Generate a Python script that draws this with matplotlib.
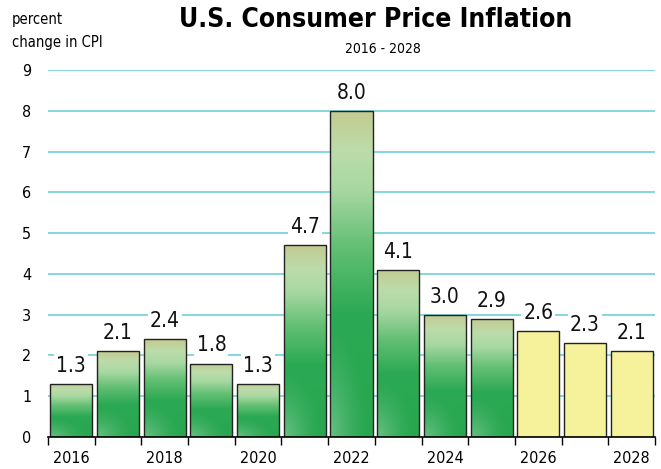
import numpy as np
import matplotlib
matplotlib.use("Agg")
import matplotlib.pyplot as plt
from matplotlib.patches import Rectangle
from matplotlib.colors import LinearSegmentedColormap

years = [2016, 2017, 2018, 2019, 2020, 2021, 2022, 2023, 2024, 2025, 2026, 2027, 2028]
values = [1.3, 2.1, 2.4, 1.8, 1.3, 4.7, 8.0, 4.1, 3.0, 2.9, 2.6, 2.3, 2.1]
is_forecast = [False]*10 + [True]*3
xtick_labels = ["2016", "2018", "2020", "2022", "2024", "2026", "2028"]
yticks = list(range(0, 10))

plt.rcParams['font.family'] = ['DejaVu Sans']
plt.rcParams['font.stretch'] = 'condensed'

fig = plt.figure(figsize=(6.61, 4.69), dpi=100)
ax = fig.add_axes([48/661, 1-437/469, 607/661, 367/469])
ax.set_xlim(-0.5, 12.5)
ax.set_ylim(0, 9)

grid_c = "#6fcfdc"
for y in yticks[1:]:
    ax.axhline(y, color=grid_c, lw=1.2, zorder=0)

cmap = LinearSegmentedColormap.from_list("g", [
    (0.0, "#27a64f"), (0.38, "#2ca954"), (0.58, "#62bf74"),
    (0.76, "#a8d8a2"), (0.88, "#bcdcaa"), (1.0, "#c3cb92")])

w = 0.9
ny, nx = 120, 40
yy = np.linspace(0, 1, ny)[:, None]
xx = np.linspace(0, 1, nx)[None, :]
base = cmap(np.repeat(yy, nx, axis=1))[..., :3]
d = np.sqrt(((xx - 0.0) / 0.9) ** 2 + ((yy - 0.0) / 0.35) ** 2)
hl = np.clip(1 - d, 0, 1) ** 1.5 * 0.3
for i, (v, fc) in enumerate(zip(values, is_forecast)):
    x0 = i - w/2
    if fc:
        ax.add_patch(Rectangle((x0, 0), w, v, facecolor="#f6f29c",
                               edgecolor="#222222", lw=1.0, zorder=2))
    else:
        img = base + (1 - base) * hl[..., None]
        im = ax.imshow(img, extent=(x0, x0 + w, 0, v), origin="lower",
                       aspect="auto", zorder=2, interpolation="bilinear")
        rect = Rectangle((x0, 0), w, v, facecolor="none",
                         edgecolor="#222222", lw=1.0, zorder=3)
        ax.add_patch(rect)
        im.set_clip_path(rect)
    ax.text(i, v + 0.2, f"{v:.1f}", ha="center", va="bottom", fontsize=15,
            color="#111111", zorder=4,
            bbox=dict(facecolor="white", edgecolor="none", pad=1.5))

for s in ["left", "right", "top"]:
    ax.spines[s].set_visible(False)
ax.spines["bottom"].set_color("black")
ax.spines["bottom"].set_linewidth(1.2)
ax.spines["bottom"].set_zorder(5)

ax.set_xticks(np.arange(-0.5, 13, 1))
ax.set_xticklabels([])
ax.tick_params(axis="x", which="major", length=6, width=1, color="black")
ax.set_xticks(np.arange(0, 13, 2), minor=True)
ax.set_xticklabels(xtick_labels, minor=True, fontsize=11.5)
ax.tick_params(axis="x", which="minor", length=0, pad=10)

ax.set_yticks(yticks)
ax.set_yticklabels([str(t) for t in yticks], fontsize=11.5)
ax.tick_params(axis="y", length=0, pad=12)

fig.text(376/661, 1-20/469, "U.S. Consumer Price Inflation", ha="center", va="center",
         fontsize=19, fontweight="bold")
fig.text(383/661, 1-49/469, "2016 - 2028", ha="center", va="center", fontsize=10)
fig.text(12/661, 1-31/469, "percent\nchange in CPI", ha="left", va="center",
         fontsize=10.5, linespacing=1.6)

fig.savefig("out.png", dpi=100)
